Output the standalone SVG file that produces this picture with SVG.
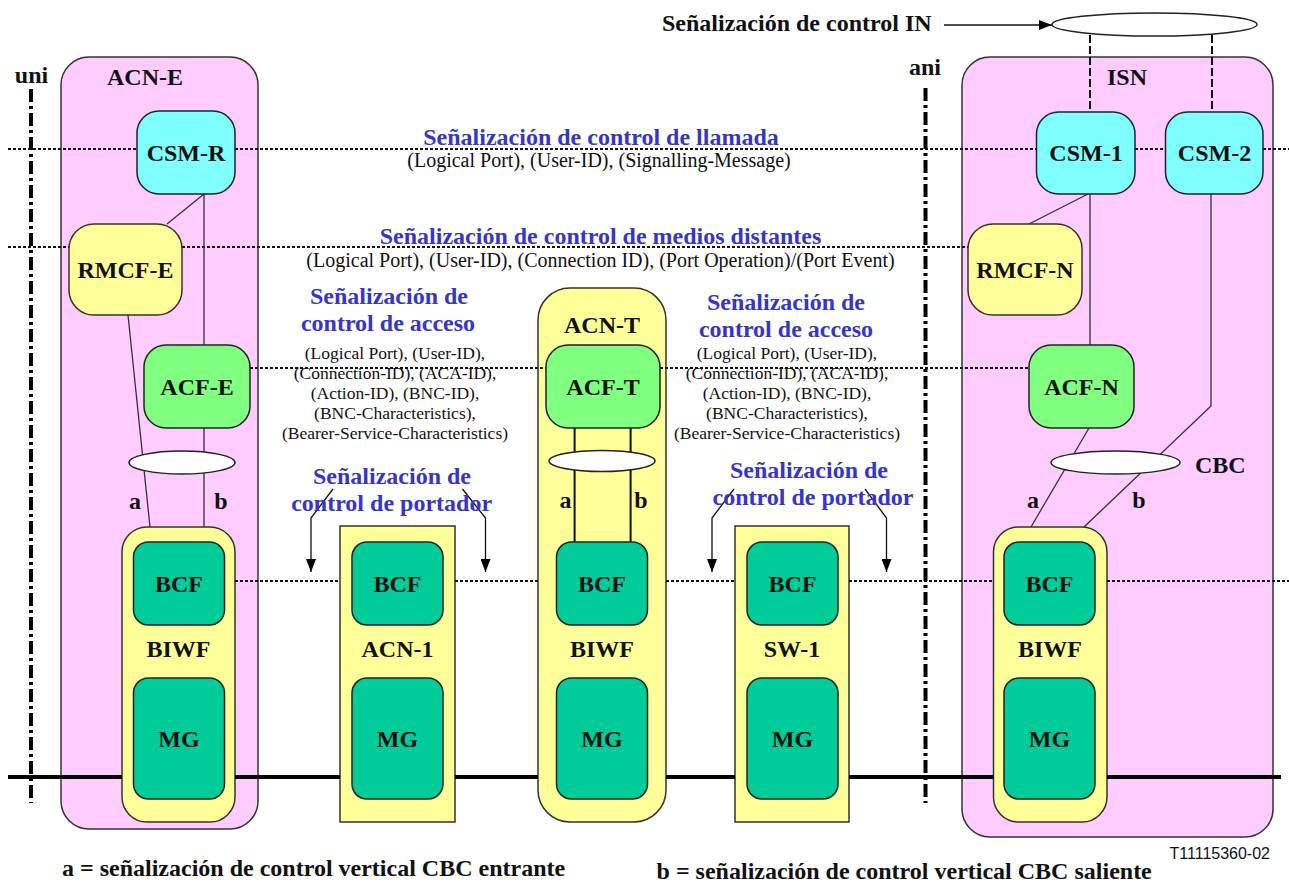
<svg xmlns="http://www.w3.org/2000/svg" width="1289" height="883" viewBox="0 0 1289 883">
<style>
.pink{fill:#FFCCFF;stroke:#333;stroke-width:1.5}
.yel{fill:#FFFF99;stroke:#333;stroke-width:1.5}
.cyan{fill:#80FFFF;stroke:#222;stroke-width:1.5}
.grn{fill:#80FF80;stroke:#222;stroke-width:1.5}
.teal{fill:#00CC99;stroke:#222;stroke-width:1.5}
.ell{fill:#FFFFFF;stroke:#222;stroke-width:1.5}
text{font-family:"Liberation Serif","Times New Roman",serif;fill:#111}
.lbl{font-weight:bold;font-size:24px;text-anchor:middle}
.lft{font-weight:bold;font-size:24px}
.blue{fill:#3535CC}
.par{font-size:20px;text-anchor:middle}
.sm{font-size:17.5px;text-anchor:middle}
.dot{stroke:#111;stroke-width:2;stroke-dasharray:3 2;fill:none}
.dd{stroke:#000;stroke-width:4;stroke-dasharray:13 4 3 4;fill:none}
.dash{stroke:#111;stroke-width:2;stroke-dasharray:8 3;fill:none}
.thin{stroke:#333;stroke-width:1.3;fill:none}
.med{stroke:#111;stroke-width:2;fill:none}
.thick{stroke:#000;stroke-width:4;fill:none}
.arr{stroke:#111;stroke-width:1.3;fill:none;marker-end:url(#ah)}
</style>
<defs>
<marker id="ah" markerUnits="userSpaceOnUse" viewBox="0 0 13 10" markerWidth="13" markerHeight="10" refX="13" refY="5" orient="auto">
<path d="M0,0 L13,5 L0,10 z" fill="#000"/>
</marker>
</defs>
<rect width="1289" height="883" fill="#FFFFFF"/>

<g id="ACN-E"><rect class="pink" x="61" y="57" width="197" height="772" rx="28"/><text class="lbl" x="145" y="85">ACN-E</text></g>
<g id="ISN"><rect class="pink" x="962" y="57" width="311" height="780" rx="28"/><text class="lbl" x="1127" y="85">ISN</text></g>

<g id="BIWF-E"><rect class="yel" x="122" y="527" width="113" height="295" rx="25"/><text class="lbl" x="178.5" y="657">BIWF</text></g>
<g id="ACN-1"><rect class="yel" x="340" y="526" width="115" height="296"/><text class="lbl" x="397.5" y="657">ACN-1</text></g>
<g id="ACN-T"><rect class="yel" x="538" y="288" width="128" height="534" rx="32"/><text class="lbl" x="602" y="333">ACN-T</text><text class="lbl" x="602" y="657">BIWF</text></g>
<g id="SW-1"><rect class="yel" x="735" y="526" width="114" height="296"/><text class="lbl" x="792" y="657">SW-1</text></g>
<g id="BIWF-N"><rect class="yel" x="993.5" y="527" width="113.5" height="295" rx="25"/><text class="lbl" x="1050" y="657">BIWF</text></g>

<g id="connectors">
<line class="dd" x1="31" y1="89" x2="31" y2="803"/>
<line class="dd" x1="925.5" y1="88" x2="925.5" y2="803"/>
<path class="thick" d="M8,777 H122 M235,777 H340 M455,777 H538 M666,777 H735 M849,777 H993.5 M1107,777 H1281"/>
<path class="dot" d="M8,149 H137 M235,149 H1036.5 M1135,149 H1165.5 M1263,149 H1289"/>
<path class="dot" d="M8,247 H69 M182,247 H968"/>
<path class="dot" d="M250,368 H546 M660,368 H1029"/>
<path class="dot" d="M235,581 H340 M455,581 H538 M666,581 H735 M849,581 H993.5 M1107,581 H1289"/>
<line class="dash" x1="1090" y1="35" x2="1090" y2="112"/>
<line class="dash" x1="1212" y1="35" x2="1212" y2="112"/>
<path class="thin" d="M204,194 L167,224 M204,194 V345 M204,428 V527 M128,315 L150,527"/>
<path class="med" d="M574.6,428 V542 M630.6,428 V542"/>
<path class="thin" d="M1088,194 L1029,224 M1090,194 V345 M1211,194 V406 L1084,527 M1089,428 L1031,527"/>
<path class="arr" d="M333,489 L311,518 V572"/>
<path class="arr" d="M462.5,489 L485.5,518 V572"/>
<path class="arr" d="M734,489 L712,518 V572"/>
<path class="arr" d="M865,489 L886.5,518 V572"/>
<line class="arr" x1="944" y1="25" x2="1052" y2="25"/>
</g>

<g id="CSM-R"><rect class="cyan" x="137" y="111" width="98" height="83" rx="22"/><text class="lbl" x="186" y="161">CSM-R</text></g>
<g id="RMCF-E"><rect class="yel" x="69" y="224" width="113" height="91" rx="25"/><text class="lbl" x="125.5" y="278">RMCF-E</text></g>
<g id="ACF-E"><rect class="grn" x="144" y="345" width="106" height="83" rx="22"/><text class="lbl" x="197" y="395">ACF-E</text></g>
<g id="CBC-E"><ellipse class="ell" cx="182" cy="462.5" rx="53" ry="11.5"/></g>
<g id="BCF-E"><rect class="teal" x="133.5" y="542" width="91" height="83" rx="15"/><text class="lbl" x="179" y="592">BCF</text></g>
<g id="MG-E"><rect class="teal" x="133.5" y="678" width="91" height="121" rx="15"/><text class="lbl" x="179" y="747">MG</text></g>

<g id="BCF-1"><rect class="teal" x="352" y="542" width="91" height="83" rx="15"/><text class="lbl" x="397.5" y="592">BCF</text></g>
<g id="MG-1"><rect class="teal" x="352" y="678" width="91" height="121" rx="15"/><text class="lbl" x="397.5" y="747">MG</text></g>

<g id="ACF-T"><rect class="grn" x="546" y="345" width="114" height="83" rx="22"/><text class="lbl" x="603" y="395">ACF-T</text></g>
<g id="CBC-T"><ellipse class="ell" cx="602" cy="461" rx="53" ry="10.5"/></g>
<g id="BCF-T"><rect class="teal" x="556.5" y="542" width="91" height="83" rx="15"/><text class="lbl" x="602" y="592">BCF</text></g>
<g id="MG-T"><rect class="teal" x="556.5" y="678" width="91" height="121" rx="15"/><text class="lbl" x="602" y="747">MG</text></g>

<g id="BCF-S"><rect class="teal" x="747" y="542" width="91" height="83" rx="15"/><text class="lbl" x="792.5" y="592">BCF</text></g>
<g id="MG-S"><rect class="teal" x="747" y="678" width="91" height="121" rx="15"/><text class="lbl" x="792.5" y="747">MG</text></g>

<g id="IN-ellipse"><ellipse class="ell" cx="1154.5" cy="24.5" rx="102.5" ry="11.5"/></g>
<g id="CSM-1"><rect class="cyan" x="1036.5" y="112" width="98.5" height="82" rx="22"/><text class="lbl" x="1086" y="161">CSM-1</text></g>
<g id="CSM-2"><rect class="cyan" x="1165.5" y="112" width="97.5" height="82" rx="22"/><text class="lbl" x="1214.5" y="161">CSM-2</text></g>
<g id="RMCF-N"><rect class="yel" x="968" y="224" width="114" height="91" rx="25"/><text class="lbl" x="1025" y="278">RMCF-N</text></g>
<g id="ACF-N"><rect class="grn" x="1029" y="345" width="105" height="83" rx="22"/><text class="lbl" x="1081.5" y="395">ACF-N</text></g>
<g id="CBC-N"><ellipse class="ell" cx="1115.5" cy="462.5" rx="64.5" ry="11.5"/></g>
<g id="BCF-N"><rect class="teal" x="1004" y="542" width="91" height="83" rx="15"/><text class="lbl" x="1049.5" y="592">BCF</text></g>
<g id="MG-N"><rect class="teal" x="1004" y="678" width="91" height="121" rx="15"/><text class="lbl" x="1049.5" y="747">MG</text></g>

<g id="labels">
<text class="lbl" x="31.5" y="83">uni</text>
<text class="lbl" x="925" y="75">ani</text>
<text class="lft" x="662" y="31">Señalización de control IN</text>
<text class="lbl blue" x="601" y="145">Señalización de control de llamada</text>
<text class="par" x="599" y="167">(Logical Port), (User-ID), (Signalling-Message)</text>
<text class="lbl blue" x="600.5" y="244">Señalización de control de medios distantes</text>
<text class="par" x="600.5" y="267">(Logical Port), (User-ID), (Connection ID), (Port Operation)/(Port Event)</text>

<text class="lbl blue" x="389" y="304">Señalización de</text>
<text class="lbl blue" x="388" y="331">control de acceso</text>
<text class="sm" x="395" y="359">(Logical Port), (User-ID),</text>
<text class="sm" x="395" y="379">(Connection-ID), (ACA-ID),</text>
<text class="sm" x="395" y="399">(Action-ID), (BNC-ID),</text>
<text class="sm" x="395" y="419">(BNC-Characteristics),</text>
<text class="sm" x="395" y="439">(Bearer-Service-Characteristics)</text>

<text class="lbl blue" x="786" y="310">Señalización de</text>
<text class="lbl blue" x="786" y="337">control de acceso</text>
<text class="sm" x="787" y="359">(Logical Port), (User-ID),</text>
<text class="sm" x="787" y="379">(Connection-ID), (ACA-ID),</text>
<text class="sm" x="787" y="399">(Action-ID), (BNC-ID),</text>
<text class="sm" x="787" y="419">(BNC-Characteristics),</text>
<text class="sm" x="787" y="439">(Bearer-Service-Characteristics)</text>

<text class="lbl blue" x="392" y="484">Señalización de</text>
<text class="lbl blue" x="391.6" y="511">control de portador</text>
<text class="lbl blue" x="809" y="478">Señalización de</text>
<text class="lbl blue" x="813" y="505">control de portador</text>

<text class="lbl" x="135" y="509">a</text>
<text class="lbl" x="221" y="509">b</text>
<text class="lbl" x="565.5" y="508">a</text>
<text class="lbl" x="641" y="508">b</text>
<text class="lbl" x="1033" y="508">a</text>
<text class="lbl" x="1139" y="508">b</text>
<text class="lft" x="1195" y="473">CBC</text>

<text class="lft" x="62" y="876">a = señalización de control vertical CBC entrante</text>
<text class="lft" x="656.6" y="879">b = señalización de control vertical CBC saliente</text>
<text x="1270" y="859" style="font-family:'Liberation Sans',Arial,sans-serif;font-size:16px;text-anchor:end">T11115360-02</text>
</g>
</svg>
